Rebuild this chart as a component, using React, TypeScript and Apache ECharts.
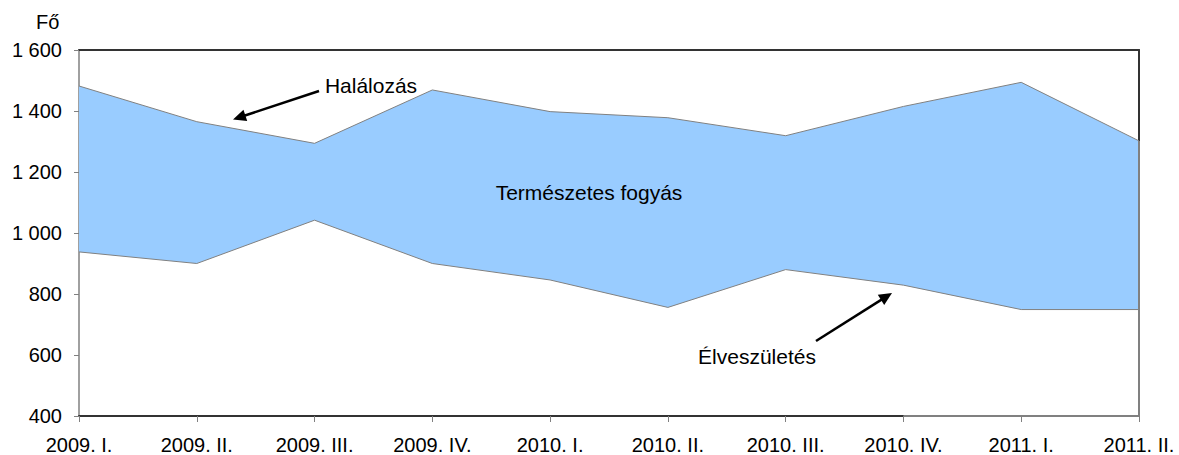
import React, { useEffect, useRef } from "react";
import * as echarts from "echarts";

const categories = [
  "2009. I.",
  "2009. II.",
  "2009. III.",
  "2009. IV.",
  "2010. I.",
  "2010. II.",
  "2010. III.",
  "2010. IV.",
  "2011. I.",
  "2011. II.",
];

// Halálozás (deaths)
const deaths = [1482, 1365, 1294, 1469, 1398, 1378, 1319, 1415, 1494, 1302];
// Élveszületés (live births)
const births = [938, 900, 1042, 900, 846, 756, 880, 829, 749, 749];

const yTicks = { min: 400, max: 1600, interval: 200 };
const yUnit = "Fő";
const labelDeaths = "Halálozás";
const labelBirths = "Élveszületés";
const labelGap = "Természetes fogyás";

const FONT = "'Liberation Sans', Arial, sans-serif";

function arrow(tail: [number, number], tip: [number, number]) {
  const dx = tip[0] - tail[0];
  const dy = tip[1] - tail[1];
  const len = Math.sqrt(dx * dx + dy * dy);
  const ux = dx / len;
  const uy = dy / len;
  const headLen = 13;
  const headW = 6;
  const bx = tip[0] - ux * headLen;
  const by = tip[1] - uy * headLen;
  return [
    {
      type: "line",
      shape: { x1: tail[0], y1: tail[1], x2: bx + ux * 2, y2: by + uy * 2 },
      style: { stroke: "#000", lineWidth: 2.5 },
      silent: true,
      z: 100,
    },
    {
      type: "polygon",
      shape: {
        points: [
          [tip[0], tip[1]],
          [bx - uy * headW, by + ux * headW],
          [bx + uy * headW, by - ux * headW],
        ],
      },
      style: { fill: "#000" },
      silent: true,
      z: 100,
    },
  ];
}

function fmtY(v: number) {
  if (v >= 1000) {
    return `${Math.floor(v / 1000)} ${String(v % 1000).padStart(3, "0")}`;
  }
  return String(v);
}

export default function App() {
  const ref = useRef<HTMLDivElement>(null);

  useEffect(() => {
    document.body.style.margin = "0";
    if (!ref.current) return;
    const chart = echarts.init(ref.current, undefined, { renderer: "svg" });
    const gap = deaths.map((d, i) => d - births[i]);

    const option: any = {
      animation: false,
      backgroundColor: "#fff",
      grid: { left: 79, right: 40, top: 50, bottom: 39, containLabel: false },
      xAxis: [
        {
          type: "category",
          data: categories,
          boundaryGap: false,
          position: "bottom",
          axisLine: { show: true, lineStyle: { color: "#333", width: 2 } },
          axisTick: { show: true, length: 6, lineStyle: { color: "#808080", width: 1 } },
          axisLabel: {
            color: "#000",
            fontSize: 20,
            fontFamily: FONT,
            margin: 19,
            interval: 0,
          },
          splitLine: { show: false },
        },
        {
          type: "category",
          data: categories,
          boundaryGap: false,
          position: "top",
          axisLine: { show: true, lineStyle: { color: "#333", width: 2 } },
          axisTick: { show: false },
          axisLabel: { show: false },
          splitLine: { show: false },
        },
      ],
      yAxis: [
        {
          type: "value",
          min: yTicks.min,
          max: yTicks.max,
          interval: yTicks.interval,
          position: "left",
          axisLine: { show: true, lineStyle: { color: "#808080", width: 1.5 } },
          axisTick: { show: true, length: 5, lineStyle: { color: "#808080", width: 1 } },
          axisLabel: {
            color: "#000",
            fontSize: 20,
            fontFamily: FONT,
            margin: 17,
            formatter: fmtY,
          },
          splitLine: { show: false },
        },
        {
          type: "value",
          min: yTicks.min,
          max: yTicks.max,
          interval: yTicks.interval,
          position: "right",
          axisLine: { show: true, lineStyle: { color: "#333", width: 2 } },
          axisTick: { show: false },
          axisLabel: { show: false },
          splitLine: { show: false },
        },
      ],
      series: [
        {
          name: labelBirths,
          type: "line",
          stack: "total",
          data: births,
          symbol: "none",
          lineStyle: { color: "#808080", width: 1 },
          z: 3,
          markLine: {
            silent: true,
            symbol: "none",
            label: { show: false },
            lineStyle: { color: "#808080", width: 2, type: "solid" },
            data: [
              [{ coord: [7, yTicks.min] }, { coord: [9, yTicks.min] }],
              [{ coord: [9, yTicks.min] }, { coord: [9, deaths[9]] }],
            ],
          },
        },
        {
          name: labelDeaths,
          type: "line",
          stack: "total",
          data: gap,
          symbol: "none",
          lineStyle: { color: "#808080", width: 1 },
          areaStyle: { color: "#99CCFF", opacity: 1 },
          z: 2,
        },
      ],
      graphic: [
        {
          type: "text",
          left: 36,
          top: 12,
          style: { text: yUnit, fontSize: 20, fontFamily: FONT, fill: "#000" },
          z: 100,
        },
        {
          type: "text",
          x: 371,
          y: 85,
          style: {
            text: labelDeaths,
            fontSize: 21,
            fontFamily: FONT,
            fill: "#000",
            align: "center",
            verticalAlign: "middle",
          },
          z: 100,
        },
        {
          type: "text",
          x: 589,
          y: 192,
          style: {
            text: labelGap,
            fontSize: 21,
            fontFamily: FONT,
            fill: "#000",
            align: "center",
            verticalAlign: "middle",
          },
          z: 100,
        },
        {
          type: "text",
          x: 757,
          y: 356,
          style: {
            text: labelBirths,
            fontSize: 21,
            fontFamily: FONT,
            fill: "#000",
            align: "center",
            verticalAlign: "middle",
          },
          z: 100,
        },
        ...arrow([319, 91], [233, 119.5]),
        ...arrow([816, 341], [892, 293]),
      ],
    };

    chart.setOption(option);
    return () => chart.dispose();
  }, []);

  return <div ref={ref} style={{ width: 1179, height: 455 }} />;
}
